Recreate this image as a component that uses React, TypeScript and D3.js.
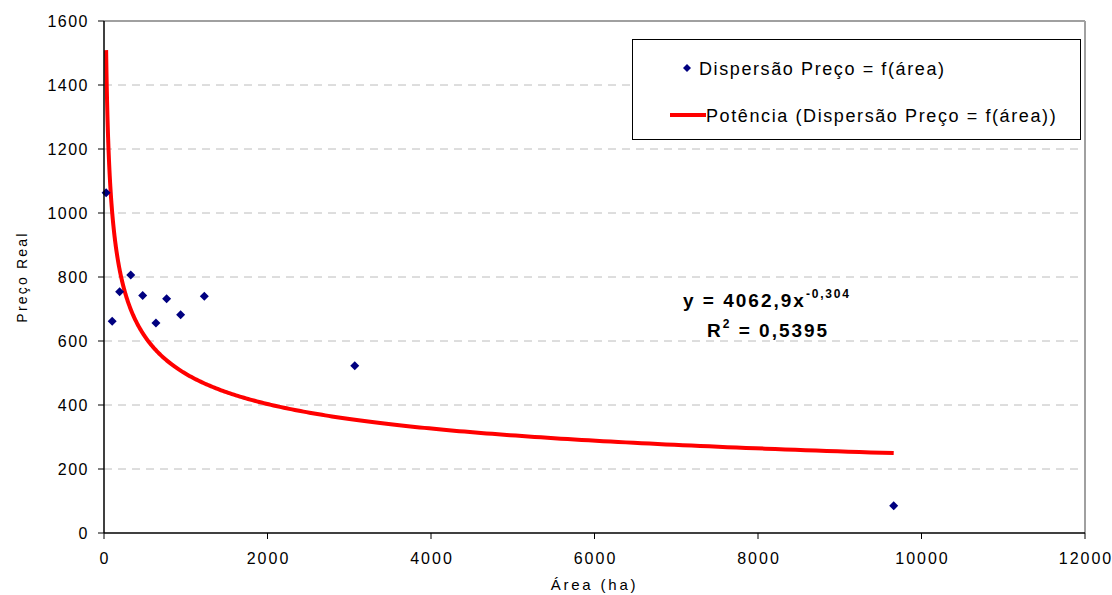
import React from 'react';
import * as d3 from 'd3';

// scatter data
const areaHa = [26, 100, 191, 327, 473, 635, 766, 937, 1227, 3067, 9660];
const precoReal = [1063, 662, 754, 806, 742, 656, 732, 682, 740, 523, 85];

// power trendline reported on the chart
const trendCoef = 4062.9;
const trendExp = -0.304;

const xTicks = [0, 2000, 4000, 6000, 8000, 10000, 12000];
const yTicks = [0, 200, 400, 600, 800, 1000, 1200, 1400, 1600];

const width = 1112;
const height = 595;
const margin = { top: 21, right: 27, bottom: 62, left: 104 };
const font = '"Liberation Sans", Arial, sans-serif';

const App: React.FC = () => {
  const innerW = width - margin.left - margin.right;
  const innerH = height - margin.top - margin.bottom;

  const x = d3.scaleLinear().domain([0, 12000]).range([0, innerW]);
  const y = d3.scaleLinear().domain([0, 1600]).range([innerH, 0]);

  const xMin = d3.min(areaHa) as number;
  const xMax = d3.max(areaHa) as number;
  const trendPts: [number, number][] = d3
    .range(0, 401)
    .map((i) => {
      const t = i / 400;
      // denser sampling near the origin where the curve is steep
      const a = xMin * Math.pow(xMax / xMin, t);
      return [a, trendCoef * Math.pow(a, trendExp)];
    });
  const line = d3
    .line<[number, number]>()
    .x((d) => x(d[0]))
    .y((d) => y(d[1]));

  const diamond = (cx: number, cy: number, r: number) =>
    `M${cx},${cy - r}L${cx + r},${cy}L${cx},${cy + r}L${cx - r},${cy}Z`;

  return (
    <svg
      width={width}
      height={height}
      style={{ position: 'absolute', left: 0, top: 0, background: '#fff' }}
      fontFamily={font}
    >
      <g transform={`translate(${margin.left},${margin.top})`}>
        {/* gridlines */}
        {yTicks
          .filter((t) => t > 0 && t < 1600)
          .map((t) => (
            <line
              key={t}
              x1={0}
              x2={innerW}
              y1={y(t)}
              y2={y(t)}
              stroke="#bcbcbc"
              strokeWidth={1}
              strokeDasharray="8,6"
            />
          ))}
        {/* plot frame top/right */}
        <line x1={0} x2={innerW} y1={0} y2={0} stroke="#a0a0a0" strokeWidth={2} />
        <line x1={innerW} x2={innerW} y1={0} y2={innerH} stroke="#a0a0a0" strokeWidth={2} />

        {/* trendline */}
        <path d={line(trendPts) || ''} fill="none" stroke="#ff0000" strokeWidth={4} />

        {/* points */}
        {areaHa.map((a, i) => (
          <path key={i} d={diamond(x(a), y(precoReal[i]), 4.5)} fill="#000080" />
        ))}

        {/* axes */}
        <line x1={0} x2={0} y1={0} y2={innerH} stroke="#000" strokeWidth={1.5} />
        <line x1={0} x2={innerW} y1={innerH} y2={innerH} stroke="#000" strokeWidth={1.5} />
        {yTicks.map((t) => (
          <g key={t} transform={`translate(0,${y(t)})`}>
            <line x1={-6} x2={0} stroke="#000" />
            <text
              x={-15}
              dy="0.35em"
              textAnchor="end"
              fontSize={16}
              letterSpacing={1.5}
              fill="#000"
            >
              {t}
            </text>
          </g>
        ))}
        {xTicks.map((t) => (
          <g key={t} transform={`translate(${x(t)},${innerH})`}>
            <line y1={0} y2={6} stroke="#000" />
            <text x={1} y={31} textAnchor="middle" fontSize={16} letterSpacing={2} fill="#000">
              {t}
            </text>
          </g>
        ))}

        {/* equation */}
        <text x={683 - margin.left} y={307 - margin.top} fontSize={19} fontWeight="bold" letterSpacing={2}>
          y = 4062,9x
          <tspan dy={-9} fontSize={12} letterSpacing={1.8}>
            -0,304
          </tspan>
        </text>
        <text x={707 - margin.left} y={337 - margin.top} fontSize={19} fontWeight="bold" letterSpacing={2}>
          R
          <tspan dy={-9} fontSize={12}>
            2
          </tspan>
          <tspan dy={9}> = 0,5395</tspan>
        </text>
      </g>

      {/* axis titles */}
      <text
        transform={`translate(27,${margin.top + innerH / 2}) rotate(-90)`}
        textAnchor="middle"
        fontSize={14}
        letterSpacing={2.2}
      >
        Preço Real
      </text>
      <text
        x={margin.left + innerW / 2}
        y={590}
        textAnchor="middle"
        fontSize={15}
        letterSpacing={2.8}
      >
        Área (ha)
      </text>

      {/* legend */}
      <g>
        <rect x={632.5} y={39.5} width={448} height={100} fill="#fff" stroke="#000" strokeWidth={1} />
        <path d={diamond(687, 68, 4)} fill="#000080" />
        <text x={699} y={75} fontSize={18} letterSpacing={1.6}>
          Dispersão Preço = f(área)
        </text>
        <line x1={670} x2={706} y1={115} y2={115} stroke="#ff0000" strokeWidth={4} />
        <text x={706} y={122} fontSize={18} letterSpacing={1.6}>
          Potência (Dispersão Preço = f(área))
        </text>
      </g>
    </svg>
  );
};

export default App;
